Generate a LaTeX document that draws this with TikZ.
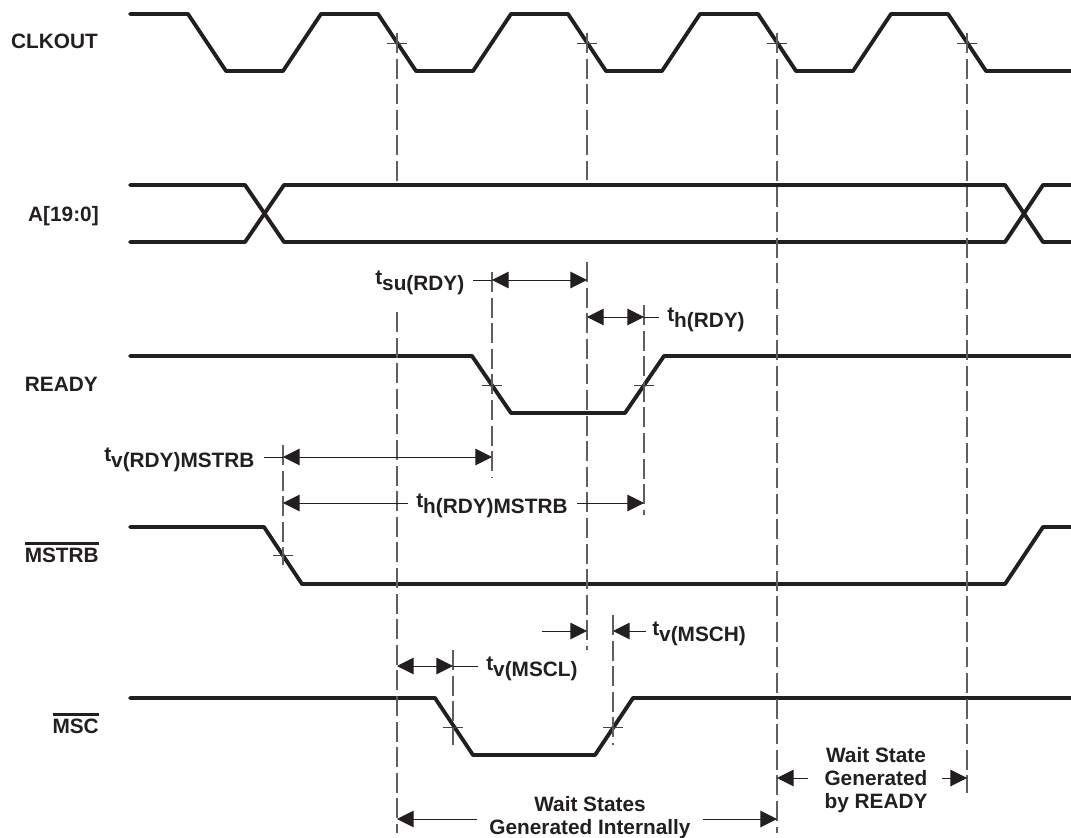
\documentclass[tikz,border=0pt]{standalone}
\usepackage{fontspec}
\setmainfont{Liberation Sans}
\usetikzlibrary{arrows.meta}
\definecolor{ink}{HTML}{231F20}
\newcommand{\tsb}[1]{t\raisebox{-0.6ex}{#1}}
\newcommand{\ovl}[1]{\leavevmode\vbox{\hrule height 2.2pt\kern 2.2pt\hbox{#1}}}
\tikzset{
  wave/.style={draw=ink,line width=2.9pt,line join=round,line cap=round},
  guide/.style={draw=ink!72,line width=0.9pt,dash pattern=on 15pt off 4.2pt},
  tick/.style={draw=ink!85,line width=0.6pt},
  dim/.style={draw=ink,line width=0.75pt},
  arr/.style={dim,-{Triangle[length=12.5pt,width=12.5pt]}},
  barr/.style={dim,{Triangle[length=12.5pt,width=12.5pt]}-{Triangle[length=12.5pt,width=12.5pt]}},
  sig/.style={font=\bfseries\fontsize{15.6pt}{18pt}\selectfont,text=ink,inner sep=0pt,anchor=base east},
  lab/.style={font=\bfseries\fontsize{15.6pt}{18pt}\selectfont,text=ink,inner sep=0pt},
  wnote/.style={font=\bfseries\fontsize{15.6pt}{17.25pt}\selectfont,text=ink,inner sep=0pt,align=center},
}
\begin{document}
\begin{tikzpicture}[x=0.75pt,y=-0.75pt]
\useasboundingbox (0,0) rectangle (1071,838);
% signal names
\node[sig] (nclk) at (98,49) {CLKOUT};
\node[sig] (naddr) at (99,221) {A[19:0]};
\node[sig] (nrdy) at (98,391) {READY};
\node[sig] (nmstrb) at (99,562) {\ovl{MSTRB}};
\node[sig] (nmsc) at (99,733) {\ovl{MSC}};
% waveforms
\draw[wave] (130,14)--(188,14)--(226,71)--(283,71)--(321,14)--(378,14)--(416,71)--(473,71)--(511,14)--(568,14)--(606,71)--(662,71)--(700,14)--(758,14)--(796,71)--(853,71)--(891,14)--(948,14)--(986,71)--(1071,71);
\draw[wave] (130,185)--(245,185)--(284,242)--(1005,242)--(1043,185)--(1071,185);
\draw[wave] (130,242)--(245,242)--(284,185)--(1005,185)--(1043,242)--(1071,242);
\draw[wave] (130,356)--(472,356)--(511,413)--(625,413)--(664,356)--(1071,356);
\draw[wave] (130,527)--(264,527)--(302,584)--(1005,584)--(1043,527)--(1071,527);
\draw[wave] (130,698)--(435,698)--(473,755)--(595,755)--(633,698)--(1071,698);
% reference points on the guides
\coordinate (a1) at (397,33);  \coordinate (a2) at (397,184);
\coordinate (b1) at (397,312); \coordinate (b2) at (397,833);
\coordinate (c1) at (587,33);  \coordinate (c2) at (587,180);
\coordinate (d1) at (587,262); \coordinate (d2) at (587,650);
\coordinate (e1) at (777,33);  \coordinate (e2) at (777,833);
\coordinate (f1) at (967,33);  \coordinate (f2) at (967,793);
\coordinate (g1) at (492,272); \coordinate (g2) at (492,477);
\coordinate (h1) at (644,305); \coordinate (h2) at (644,515);
\coordinate (i1) at (283,445); \coordinate (i2) at (283,565);
\coordinate (j1) at (453,650); \coordinate (j2) at (453,745);
\coordinate (k1) at (613,615); \coordinate (k2) at (613,745);
\foreach \p/\q in {a1/a2,b1/b2,c1/c2,d1/d2,e1/e2,f1/f2,g1/g2,h1/h2,i1/i2,j1/j2,k1/k2}
  \draw[guide] (\p)--(\q);
% crossing ticks
\foreach \tx/\ty in {397/43,587/43,777/43,967/43,492/385,644/385,283/555,453/727,613/727}
  \draw[tick] (\tx-10,\ty)--(\tx+10,\ty);
% timing labels
\node[lab,anchor=west] (tsu) at (375,283) {\tsb{su(RDY)}};
\node[lab,anchor=west] (th) at (667,320) {\tsb{h(RDY)}};
\node[lab,anchor=west] (tvm) at (104,460) {\tsb{v(RDY)MSTRB}};
\node[lab,anchor=west] (thm) at (416,506) {\tsb{h(RDY)MSTRB}};
\node[lab,anchor=west] (tvh) at (652,634) {\tsb{v(MSCH)}};
\node[lab,anchor=west] (tvl) at (486,669) {\tsb{v(MSCL)}};
\node[wnote] (ws) at (590,817.5) {Wait States\\Generated Internally};
\node[wnote] (wr) at (876,780) {Wait State\\Generated\\by READY};
% dimension anchors
\coordinate (p1) at (473,280); \coordinate (p2) at (492,280); \coordinate (p3) at (587,280);
\coordinate (q1) at (587,317); \coordinate (q2) at (644,317); \coordinate (q3) at (659,317);
\coordinate (r1) at (264,457); \coordinate (r2) at (283,457); \coordinate (r3) at (492,457);
\coordinate (s1) at (283,503); \coordinate (s2) at (408,503); \coordinate (s3) at (577,503); \coordinate (s4) at (644,503);
\coordinate (t1) at (542,631); \coordinate (t2) at (587,631); \coordinate (t3) at (646,631); \coordinate (t4) at (613,631);
\coordinate (u1) at (397,666); \coordinate (u2) at (453,666); \coordinate (u3) at (478,666);
\coordinate (v1) at (477,819); \coordinate (v2) at (397,819); \coordinate (v3) at (703,819); \coordinate (v4) at (777,819);
\coordinate (w1) at (808,778); \coordinate (w2) at (777,778); \coordinate (w3) at (942,778); \coordinate (w4) at (967,778);
% dimension arrows
\draw[dim] (p1)--(p2);
\draw[barr] (p2)--(p3);
\draw[barr] (q1)--(q2);
\draw[dim] (q2)--(q3);
\draw[dim] (r1)--(r2);
\draw[barr] (r2)--(r3);
\draw[arr] (s2)--(s1);
\draw[arr] (s3)--(s4);
\draw[arr] (t1)--(t2);
\draw[arr] (t3)--(t4);
\draw[barr] (u1)--(u2);
\draw[dim] (u2)--(u3);
\draw[arr] (v1)--(v2);
\draw[arr] (v3)--(v4);
\draw[arr] (w1)--(w2);
\draw[arr] (w3)--(w4);
\end{tikzpicture}
\end{document}
